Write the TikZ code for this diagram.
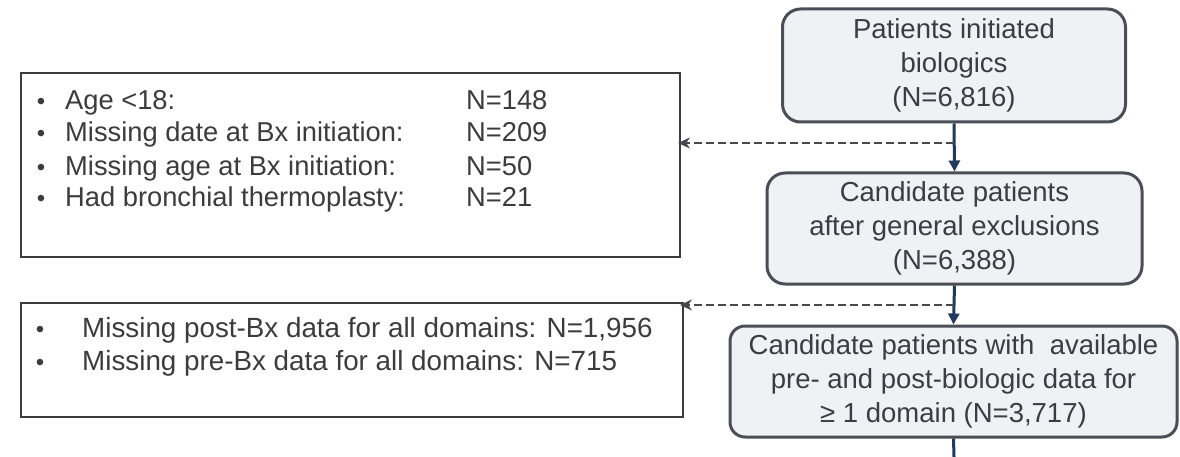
\documentclass[tikz,border=0pt]{standalone}
\usepackage{fontspec}
\setmainfont{Liberation Sans}
\usetikzlibrary{arrows.meta}
\definecolor{txt}{HTML}{3A3E44}
\definecolor{ltxt}{HTML}{3C3C3C}
\definecolor{boxline}{HTML}{4A4F57}
\definecolor{boxfill}{HTML}{EFF1F4}
\definecolor{navy}{HTML}{1F3A5C}
\definecolor{dashc}{HTML}{45494F}
\begin{document}
\begin{tikzpicture}[x=1pt,y=-1pt,
  flowbox/.style={draw=boxline, line width=3pt, fill=boxfill, rounded corners=18pt,
    align=center, text=txt, inner sep=0pt, font=\fontsize{27.5}{34}\selectfont},
  exbox/.style={draw=ltxt, line width=2pt, fill=white, inner sep=0pt},
  bul/.style={anchor=base, inner sep=0pt, text=ltxt, font=\fontsize{24}{28}\selectfont},
  ltext/.style={anchor=base west, inner sep=0pt, text=ltxt, font=\fontsize{27.3}{32}\selectfont},
  solidarrow/.style={draw=navy, line width=3pt, -{Triangle[length=11pt,width=11pt]}},
  dasharrow/.style={draw=dashc, line width=2pt, dash pattern=on 8pt off 4pt,
    -{Stealth[length=12pt,width=11pt]}},
  plainline/.style={draw=navy, line width=3pt}]
\useasboundingbox (0,0) rectangle (1180,457);
\fill[white] (0,0) rectangle (1180,457);

% right flow boxes
\node[flowbox, minimum width=343pt, minimum height=113pt] (b1) at (954,65.5)
  {Patients initiated\\biologics\\(N=6,816)};
\node[flowbox, minimum width=375pt, minimum height=111pt] (b2) at (954.5,228.5)
  {Candidate patients\\after general exclusions\\(N=6,388)};
\node[flowbox, minimum width=447pt, minimum height=111pt, rounded corners=15pt] (b3) at (953.5,381.5)
  {Candidate patients with \ available\\pre- and post-biologic data for\\≥ 1 domain (N=3,717)};

% left exclusion boxes
\node[exbox, minimum width=659pt, minimum height=184pt] (exA) at (350.5,165) {};
\node[exbox, minimum width=662pt, minimum height=114pt] (exB) at (352,360) {};

% box A text
\node[bul] (a1b) at (41,110) {•};
\node[ltext] (a1t) at (65,110) {Age <18:};
\node[ltext] (a1n) at (466,110) {N=148};
\node[bul] (a2b) at (41,142) {•};
\node[ltext] (a2t) at (65,142) {Missing date at Bx initiation:};
\node[ltext] (a2n) at (466,142) {N=209};
\node[bul] (a3b) at (41,176) {•};
\node[ltext] (a3t) at (65,176) {Missing age at Bx initiation:};
\node[ltext] (a3n) at (466,176) {N=50};
\node[bul] (a4b) at (41,207) {•};
\node[ltext] (a4t) at (65,207) {Had bronchial thermoplasty:};
\node[ltext] (a4n) at (466,207) {N=21};

% box B text
\node[bul] (c1b) at (40,337) {•};
\node[ltext, font=\fontsize{27.8}{32}\selectfont] (c1t) at (82,337) {Missing post-Bx data for all domains: N=1,956};
\node[bul] (c2b) at (40,370) {•};
\node[ltext, font=\fontsize{27.8}{32}\selectfont] (c2t) at (82,370) {Missing pre-Bx data for all domains: N=715};

% connectors
\coordinate (j1) at (954,143);
\coordinate (j2) at (954,305);
\coordinate (bot) at (954,457);
\draw[solidarrow] (b1.south) -- (b2.north);
\draw[solidarrow] (b2.south) -- (b3.north);
\draw[plainline] (b3.south) -- (bot);
\draw[dasharrow, shorten >=-3pt] (j1) -- (exA.east |- j1);
\draw[dasharrow, shorten >=-4pt] (j2) -- (exB.east |- j2);
\end{tikzpicture}
\end{document}
